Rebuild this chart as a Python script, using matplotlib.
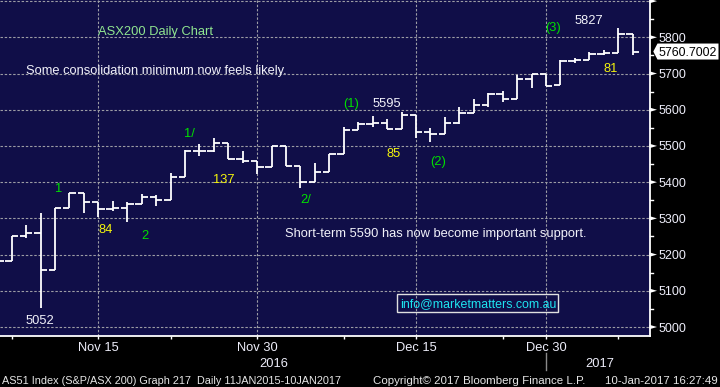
import matplotlib
matplotlib.use('Agg')
import matplotlib.pyplot as plt
from matplotlib.patches import Polygon, Rectangle
from matplotlib.lines import Line2D
from matplotlib.transforms import IdentityTransform
import numpy as np
from datetime import datetime

# ---------------- data ----------------
dates = ['2016-11-04', '2016-11-07', '2016-11-08', '2016-11-09', '2016-11-10', '2016-11-11',
         '2016-11-14', '2016-11-15', '2016-11-16', '2016-11-17', '2016-11-18', '2016-11-21',
         '2016-11-22', '2016-11-23', '2016-11-24', '2016-11-25', '2016-11-28', '2016-11-29',
         '2016-11-30', '2016-12-01', '2016-12-02', '2016-12-05', '2016-12-06', '2016-12-07',
         '2016-12-08', '2016-12-09', '2016-12-12', '2016-12-13', '2016-12-14', '2016-12-15',
         '2016-12-16', '2016-12-19', '2016-12-20', '2016-12-21', '2016-12-22', '2016-12-23',
         '2016-12-28', '2016-12-29', '2016-12-30', '2017-01-03', '2017-01-04', '2017-01-05',
         '2017-01-06', '2017-01-09', '2017-01-10']
opens = [5190, 5181, 5250, 5259, 5157, 5328, 5369, 5344, 5325, 5328, 5339, 5358, 5350, 5413, 5485,
         5485, 5507, 5463, 5458, 5441, 5499, 5444, 5400, 5427, 5477, 5543, 5560, 5563, 5546, 5585,
         5538, 5532, 5563, 5590, 5612, 5643, 5629, 5684, 5698, 5668, 5735, 5736, 5753, 5756, 5808]
highs = [5195, 5250, 5282, 5314, 5328, 5369, 5369, 5344, 5348, 5344, 5367, 5365, 5425, 5488, 5505,
         5521, 5507, 5486, 5458, 5499, 5499, 5444, 5453, 5477, 5552, 5565, 5582, 5574, 5595, 5585,
         5550, 5580, 5607, 5630, 5645, 5652, 5695, 5699, 5699, 5737, 5742, 5759, 5765, 5827, 5808]
lows = [5175, 5181, 5247, 5052, 5157, 5328, 5316, 5305, 5321, 5289, 5339, 5335, 5350, 5413, 5473,
        5482, 5463, 5454, 5423, 5441, 5444, 5385, 5400, 5427, 5477, 5543, 5553, 5546, 5546, 5521,
        5512, 5532, 5560, 5590, 5607, 5621, 5629, 5661, 5665, 5668, 5730, 5736, 5750, 5756, 5750]
closes = [5181, 5250, 5259, 5157, 5328, 5369, 5344, 5325, 5328, 5339, 5358, 5350, 5413, 5485, 5485,
          5507, 5463, 5458, 5441, 5499, 5444, 5400, 5427, 5477, 5543, 5560, 5563, 5546, 5585, 5538,
          5532, 5563, 5590, 5612, 5643, 5629, 5684, 5698, 5665, 5735, 5736, 5753, 5756, 5808, 5760.7002]

major_dates = ['2016-11-15', '2016-11-30', '2016-12-15', '2016-12-30']
minor_dates = ['2016-11-07', '2016-11-22', '2016-12-08', '2016-12-23', '2017-01-09']
y_major = list(range(5000, 5901, 100))
y_labels = [str(v) for v in range(5000, 5801, 100)]
y_minor = list(range(5050, 5851, 100))

# ---------------- figure ----------------
W, H = 720, 387
fig = plt.figure(figsize=(W / 100, H / 100), dpi=100, facecolor='black')
AX_R, AX_B = 649.5, 335.7
ax = fig.add_axes([0, (H - AX_B) / H, AX_R / W, AX_B / H])
ax.set_facecolor('#100e48')
idx = np.arange(len(dates))
ax.set_xlim(0.19, 45.17)
ax.set_ylim(4976, 5903)

def fx(x):
    return x / W

def fy(y):
    return 1 - y / H

FONT = ['Liberation Sans', 'DejaVu Sans']

# grid
grid_kw = dict(color='#9c9ca4', lw=0.8, dashes=(2.2, 1.6), zorder=1)
for v in y_major:
    ax.axhline(v, **grid_kw)
d_index = {d: i for i, d in enumerate(dates)}
for d in major_dates:
    ax.axvline(d_index[d], **grid_kw)

# OHLC bars
tw = 0.44
vl = ax.vlines(idx, lows, highs, color='white', lw=1.3, zorder=3)
ol = ax.hlines(opens, idx - tw, idx, color='white', lw=1.3, zorder=3)
cl = ax.hlines(closes, idx, idx + tw, color='white', lw=1.3, zorder=3)
for c in (vl, ol, cl):
    c.set_capstyle('butt')

# spines
for s in ('left', 'top'):
    ax.spines[s].set_visible(False)
for s in ('bottom', 'right'):
    ax.spines[s].set_color('white')
    ax.spines[s].set_linewidth(1.3)

# x ticks
ax.set_xticks([d_index[d] for d in major_dates])
ax.set_xticks([d_index[d] for d in minor_dates], minor=True)
ax.set_xticklabels([])
ax.tick_params(axis='x', which='both', direction='out', length=2.5, width=1, color='white')
ax.set_yticks([])

def xpx(i):
    return ax.transData.transform((i, 0))[0]

def ypx_top(v):
    # pixel y from top of image
    return H - ax.transData.transform((0, v))[1]

lab_col = '#eeeefa'
for d in major_dates:
    dt = datetime.strptime(d, '%Y-%m-%d')
    fig.text(fx(xpx(d_index[d])), fy(350.7), f"{dt.strftime('%b')} {dt.day}",
             ha='center', va='baseline', color=lab_col, fontsize=9.3, family=FONT)

# year labels
years = [d[:4] for d in dates]
boundary = next(i for i in range(1, len(years)) if years[i] != years[i - 1]) - 0.5
x0, x1 = ax.get_xlim()
fig.text(fx((xpx(x0) + xpx(boundary)) / 2 - 3), fy(367), years[0], ha='center', va='baseline',
         color=lab_col, fontsize=9.3, family=FONT)
fig.text(fx((xpx(boundary) + xpx(x1)) / 2 - 2), fy(367), years[-1], ha='center', va='baseline',
         color=lab_col, fontsize=9.3, family=FONT)
sep_x = xpx(d_index['2016-12-30'])
fig.add_artist(Line2D([sep_x, sep_x], [H - 353, H - 370], transform=IdentityTransform(),
                      color='#8a8a8a', lw=1))

# y axis (right) ticks and labels
for v in y_major:
    yd = ax.transData.transform((0, v))[1]
    fig.add_artist(Polygon([(AX_R, yd - 2.2), (AX_R, yd + 2.2), (AX_R + 7.5, yd)], closed=True,
                           transform=IdentityTransform(), facecolor='white', edgecolor='none'))
for v in y_minor:
    yd = ax.transData.transform((0, v))[1]
    fig.add_artist(Line2D([AX_R, AX_R + 3.8], [yd, yd], transform=IdentityTransform(),
                          color='white', lw=1))
for s in y_labels:
    v = float(s)
    fig.text(fx(658.5), fy(ypx_top(v) + 4.5), s, ha='left', va='baseline',
             color=lab_col, fontsize=9, family=FONT)

# current price box
last = closes[-1]
yc = ax.transData.transform((0, last))[1]
fig.add_artist(Polygon([(653.3, yc), (657.5, yc + 8), (718.5, yc + 8), (718.5, yc - 8),
                        (657.5, yc - 8)], closed=True, transform=IdentityTransform(),
                       facecolor='white', edgecolor='none'))
fig.text(fx(659), fy(ypx_top(last) + 4.4), f"{last:.4f}", ha='left', va='baseline',
         color='black', fontsize=8.9, family=FONT)

# annotations
GREEN = '#00e000'
LGREEN = '#90e690'
YEL = '#f4f40c'
WHT = '#f2f2fa'
notes = [
    ("ASX200 Daily Chart", 98, 34.6, LGREEN),
    ("Some consolidation minimum now feels likely.", 25.5, 73.8, WHT),
    ("1", 55.5, 192, GREEN),
    ("1/", 184.5, 136.8, GREEN),
    ("137", 213.3, 183, YEL),
    ("84", 98.3, 233.3, YEL),
    ("2", 141.2, 239.3, GREEN),
    ("5052", 25.2, 324.3, WHT),
    ("(1)", 343, 106.5, GREEN),
    ("5595", 372.3, 107.3, WHT),
    ("85", 386.5, 157.3, YEL),
    ("(2)", 430, 165.3, GREEN),
    ("2/", 300, 203.3, GREEN),
    ("Short-term 5590 has now become important support.", 285, 236.7, WHT),
    ("(3)", 545, 31.3, GREEN),
    ("5827", 574.3, 24, WHT),
    ("81", 603.3, 71.7, YEL),
]
for t, x, y, c in notes:
    fig.text(fx(x), fy(y), t, ha='left', va='baseline', color=c, fontsize=9.3, family=FONT)

# info box
fig.add_artist(Rectangle((397, H - 312.3), 161.3, 18, transform=IdentityTransform(),
                         facecolor='none', edgecolor='#e0e0e0', lw=1))
fig.text(fx(400.5), fy(307.5), "info@marketmatters.com.au", ha='left', va='baseline',
         color='#1ee4f0', fontsize=8.9, family=FONT)

# footer
FOOT = '#e6e6e6'
fig.text(fx(2), fy(384.3), "AS51 Index (S&P/ASX 200) Graph 217  Daily 11JAN2015-10JAN2017",
         ha='left', va='baseline', color=FOOT, fontsize=7.85, family=FONT)
fig.text(fx(373), fy(384.3), "Copyright\u00a9 2017 Bloomberg Finance L.P.",
         ha='left', va='baseline', color=FOOT, fontsize=8.25, family=FONT)
fig.text(fx(717.5), fy(384.3), "10-Jan-2017 16:27:49",
         ha='right', va='baseline', color=FOOT, fontsize=8.25, family=FONT)

fig.savefig('out.png', dpi=100, facecolor='black')
